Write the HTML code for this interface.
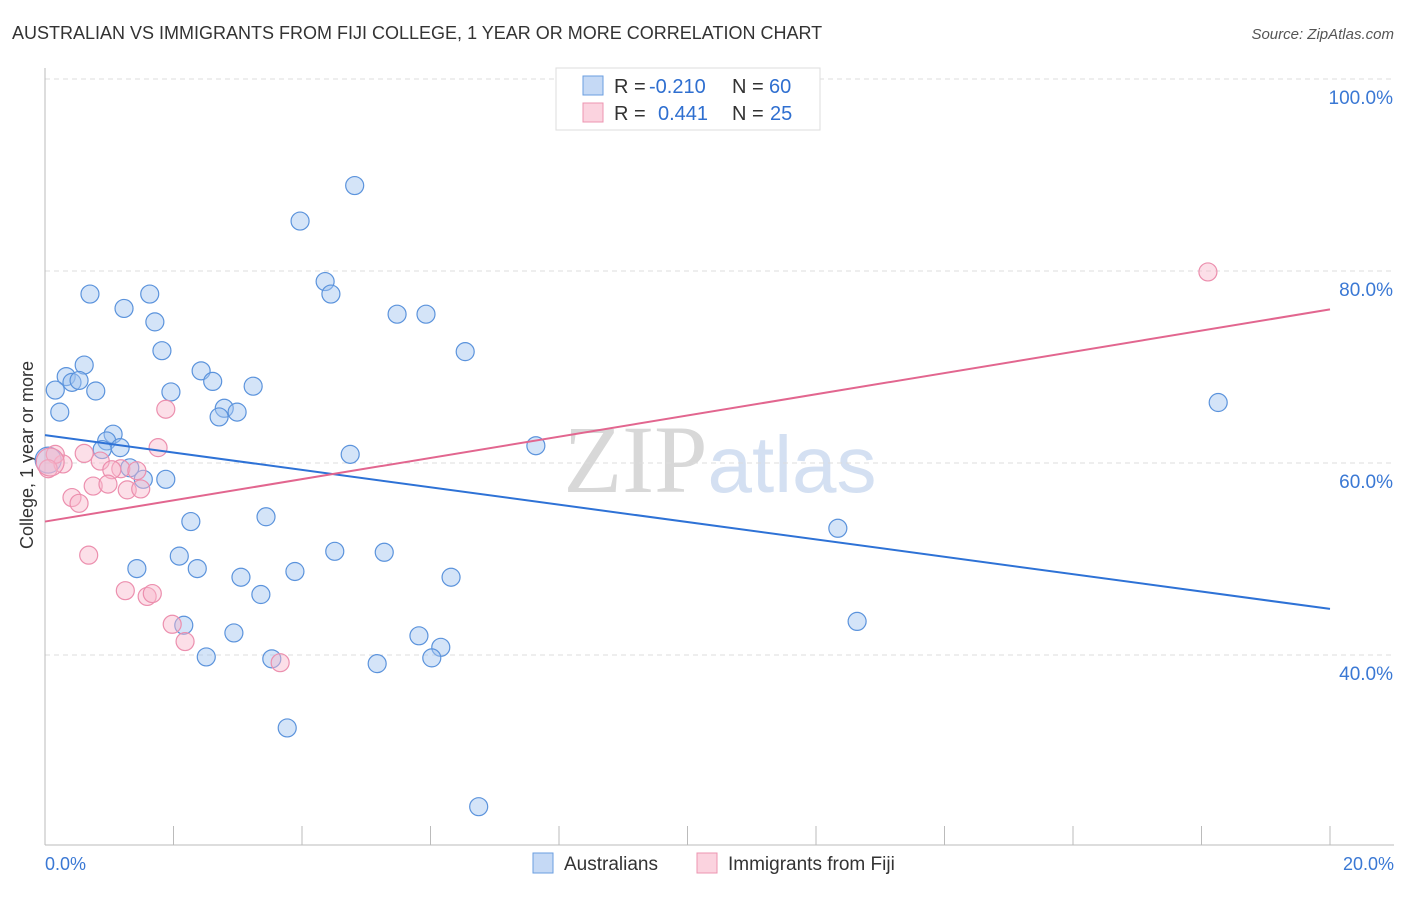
<!DOCTYPE html>
<html><head><meta charset="utf-8"><style>
body{margin:0;background:#fff;font-family:"Liberation Sans",sans-serif;}
svg text{font-family:"Liberation Sans",sans-serif;}
</style></head><body>
<svg width="1406" height="892">
<text x="12" y="39" font-size="18" fill="#333">AUSTRALIAN VS IMMIGRANTS FROM FIJI COLLEGE, 1 YEAR OR MORE CORRELATION CHART</text>
<text x="1394" y="39" font-size="15" fill="#555" text-anchor="end" font-style="italic">Source: ZipAtlas.com</text>
<text x="720" y="492" font-size="96" fill="#ddd" text-anchor="middle" font-family="Liberation Serif"><tspan font-family="Liberation Serif" fill="#d8d8d8">ZIP</tspan><tspan fill="#d4e0f2" font-size="80" font-family="Liberation Sans">atlas</tspan></text>
<g id="grid"></g>
<line x1="45" y1="68" x2="45" y2="845" stroke="#bbb"/>
<line x1="45" y1="845" x2="1394" y2="845" stroke="#bbb"/>
<text x="33" y="455" font-size="18" fill="#333" text-anchor="middle" transform="rotate(-90 33 455)">College, 1 year or more</text>
<text x="45" y="870" font-size="18" fill="#3a78d4">0.0%</text>
<text x="1394" y="870" font-size="18" fill="#3a78d4" text-anchor="end">20.0%</text>
<g id="marks"></g>
<g>
<rect x="556" y="68" width="264" height="62" fill="#fff" stroke="#ddd"/>
<rect x="583" y="76" width="20" height="19" fill="#c5d9f5" stroke="#6a9ee0"/>
<rect x="583" y="103" width="20" height="19" fill="#fbd3df" stroke="#ec95b0"/>
<text x="614" y="93" font-size="20" fill="#333">R =</text>
<text x="649" y="93" font-size="20" fill="#2f6fd0">-0.210</text>
<text x="732" y="93" font-size="20" fill="#333">N =</text>
<text x="769" y="93" font-size="20" fill="#2f6fd0">60</text>
<text x="614" y="120" font-size="20" fill="#333">R =</text>
<text x="658" y="120" font-size="20" fill="#2f6fd0">0.441</text>
<text x="732" y="120" font-size="20" fill="#333">N =</text>
<text x="770" y="120" font-size="20" fill="#2f6fd0">25</text>
</g>
<g>
<rect x="533" y="853" width="20" height="20" fill="#c5d9f5" stroke="#6a9ee0"/>
<text x="564" y="870" font-size="19" fill="#333">Australians</text>
<rect x="697" y="853" width="20" height="20" fill="#fbd3df" stroke="#ec95b0"/>
<text x="728" y="870" font-size="19" fill="#333">Immigrants from Fiji</text>
</g>
</svg>
<script>
const blueX=[4.82,3.97,0.70,1.23,1.63,1.71,4.36,4.45,5.48,5.93,1.82,6.54,0.61,0.33,0.42,0.53,0.79,0.16,0.23,1.96,2.43,2.61,3.24,2.79,2.99,2.71,1.06,0.96,0.89,1.17,7.64,4.75,1.32,1.53,1.88,18.26,2.27,3.44,12.34,4.51,5.28,2.09,2.37,1.43,3.05,3.89,6.32,3.36,2.16,2.94,5.82,6.16,6.02,2.51,3.53,5.17,12.64,3.77,6.75,0.05];
const blueY=[88.9,85.2,77.6,76.1,77.6,74.7,78.9,77.6,75.5,75.5,71.7,71.6,70.2,69.0,68.4,68.6,67.5,67.6,65.3,67.4,69.6,68.5,68.0,65.7,65.3,64.8,63.0,62.3,61.4,61.6,61.8,60.9,59.5,58.3,58.3,66.3,53.9,54.4,53.2,50.8,50.7,50.3,49.0,49.0,48.1,48.7,48.1,46.3,43.1,42.3,42.0,40.8,39.7,39.8,39.6,39.1,43.5,32.4,24.2,60.3];
const pinkX=[18.10,1.88,1.76,0.61,0.86,0.28,0.16,0.05,1.18,1.43,1.04,0.75,0.98,1.28,1.49,0.42,0.53,0.68,1.25,1.59,1.67,1.98,2.18,3.66,0.08];
const pinkY=[79.9,65.6,61.6,61.0,60.2,59.9,60.9,59.4,59.4,59.2,59.3,57.6,57.8,57.2,57.3,56.4,55.8,50.4,46.7,46.1,46.4,43.2,41.4,39.2,60.1];
const blueTrend=[62.9,44.8];
const pinkTrend=[53.9,76.0];
const yTicks=[40,60,80,100];
const xTicks=[0,2,4,6,8,10,12,14,16,18,20];
const sx=v=>45+v/20*1285, sy=v=>79+(100-v)/20*192;
const NS='http://www.w3.org/2000/svg';
const g=document.getElementById('marks'), gr=document.getElementById('grid');
function mk(tag,a,p){const e=document.createElementNS(NS,tag);for(const k in a)e.setAttribute(k,a[k]);p.appendChild(e);return e;}
yTicks.forEach(t=>{
 const l=mk('line',{x1:45,x2:1394,y1:sy(t),y2:sy(t),stroke:'#ddd','stroke-dasharray':'5,4'},gr);
 
 
 const tx=mk('text',{x:1393,y:sy(t)+25,'font-size':19,fill:'#3a78d4','text-anchor':'end'},gr);
 tx.textContent=t.toFixed(1)+'%';
 
 
});
xTicks.forEach(t=>{
 const l=mk('line',{x1:sx(t),x2:sx(t),y1:826,y2:845,stroke:'#bbb'},gr);
 
 
});
blueX.forEach((x,i)=>{
 const c=mk('circle',{cx:sx(x),cy:sy(blueY[i]),r:i==59?13:9,fill:'rgba(160,195,240,0.45)',stroke:'#5b93dc','stroke-width':1.2},g);
 
 
});
pinkX.forEach((x,i)=>{
 const c=mk('circle',{cx:sx(x),cy:sy(pinkY[i]),r:i==24?14:9,fill:'rgba(248,185,205,0.45)',stroke:'#ec8fae','stroke-width':1.2},g);
 
 
});
const bl=mk('line',{x1:sx(0),y1:sy(blueTrend[0]),x2:sx(20),y2:sy(blueTrend[1]),stroke:'#2e72d6','stroke-width':2},g);


const pl=mk('line',{x1:sx(0),y1:sy(pinkTrend[0]),x2:sx(20),y2:sy(pinkTrend[1]),stroke:'#e2668f','stroke-width':2},g);


</script>
</body></html>
